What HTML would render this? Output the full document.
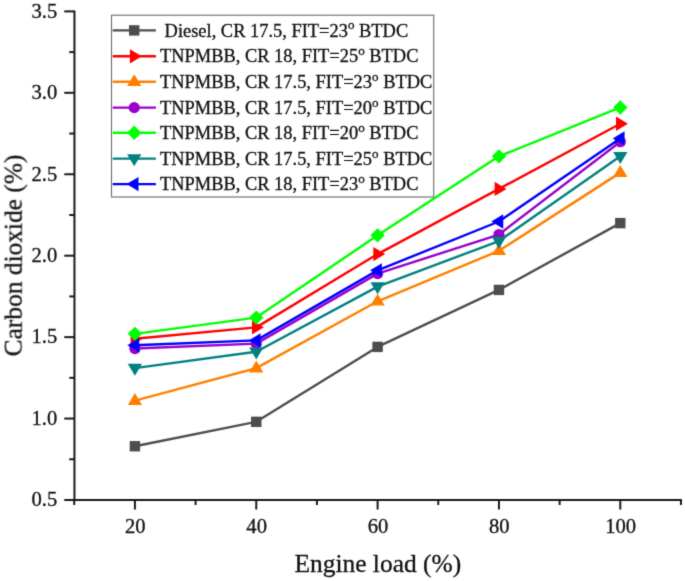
<!DOCTYPE html>
<html><head><meta charset="utf-8"><title>Chart</title>
<style>
html,body{margin:0;padding:0;background:#fff;}
body{width:685px;height:581px;overflow:hidden;}
svg{display:block;font-family:"Liberation Serif",serif;}
text{white-space:pre;fill:#111;stroke:#111;stroke-width:0.3px;}
</style></head><body>
<svg width="685" height="581" viewBox="0 0 685 581">
<defs><filter id="soft" x="0" y="0" width="685" height="581" filterUnits="userSpaceOnUse" color-interpolation-filters="sRGB"><feConvolveMatrix order="3" kernelMatrix="0.01690 0.09620 0.01690 0.09620 0.54760 0.09620 0.01690 0.09620 0.01690" divisor="1" edgeMode="duplicate" preserveAlpha="true"/></filter></defs>
<rect width="685" height="581" fill="#ffffff"/>
<g id="plot" filter="url(#soft)">
<rect width="685" height="581" fill="#ffffff"/>
<g stroke="#1a1a1a" stroke-width="2" fill="none" stroke-linecap="butt">
<line x1="74.45" y1="10.39" x2="74.45" y2="501.0"/>
<line x1="73.25" y1="500.0" x2="681.95" y2="500.0"/>
<line x1="64.25" y1="500.00" x2="74.25" y2="500.00"/>
<line x1="69.25" y1="459.28" x2="74.25" y2="459.28"/>
<line x1="64.25" y1="418.56" x2="74.25" y2="418.56"/>
<line x1="69.25" y1="377.85" x2="74.25" y2="377.85"/>
<line x1="64.25" y1="337.13" x2="74.25" y2="337.13"/>
<line x1="69.25" y1="296.41" x2="74.25" y2="296.41"/>
<line x1="64.25" y1="255.69" x2="74.25" y2="255.69"/>
<line x1="69.25" y1="214.98" x2="74.25" y2="214.98"/>
<line x1="64.25" y1="174.26" x2="74.25" y2="174.26"/>
<line x1="69.25" y1="133.54" x2="74.25" y2="133.54"/>
<line x1="64.25" y1="92.82" x2="74.25" y2="92.82"/>
<line x1="69.25" y1="52.11" x2="74.25" y2="52.11"/>
<line x1="64.25" y1="11.39" x2="74.25" y2="11.39"/>
<line x1="74.25" y1="500.0" x2="74.25" y2="505.0"/>
<line x1="134.92" y1="500.0" x2="134.92" y2="509.5"/>
<line x1="195.59" y1="500.0" x2="195.59" y2="505.0"/>
<line x1="256.26" y1="500.0" x2="256.26" y2="509.5"/>
<line x1="316.93" y1="500.0" x2="316.93" y2="505.0"/>
<line x1="377.60" y1="500.0" x2="377.60" y2="509.5"/>
<line x1="438.27" y1="500.0" x2="438.27" y2="505.0"/>
<line x1="498.94" y1="500.0" x2="498.94" y2="509.5"/>
<line x1="559.61" y1="500.0" x2="559.61" y2="505.0"/>
<line x1="620.28" y1="500.0" x2="620.28" y2="509.5"/>
<line x1="680.95" y1="500.0" x2="680.95" y2="505.0"/>
</g>
<g font-size="20.6px">
<text transform="translate(57.3,506.30)" text-anchor="end">0.5</text>
<text transform="translate(57.3,424.87)" text-anchor="end">1.0</text>
<text transform="translate(57.3,343.43)" text-anchor="end">1.5</text>
<text transform="translate(57.3,262.00)" text-anchor="end">2.0</text>
<text transform="translate(57.3,180.56)" text-anchor="end">2.5</text>
<text transform="translate(57.3,99.12)" text-anchor="end">3.0</text>
<text transform="translate(57.3,17.69)" text-anchor="end">3.5</text>
<text transform="translate(135.32,532.6)" text-anchor="middle">20</text>
<text transform="translate(256.66,532.6)" text-anchor="middle">40</text>
<text transform="translate(378.00,532.6)" text-anchor="middle">60</text>
<text transform="translate(499.34,532.6)" text-anchor="middle">80</text>
<text transform="translate(620.68,532.6)" text-anchor="middle">100</text>
</g>
<text transform="translate(377.8,571.8)" font-size="25.45px" text-anchor="middle">Engine load (%)</text>
<text transform="translate(21.7,255.4) rotate(-90) scale(0.985,1)" font-size="25.8px" text-anchor="middle">Carbon dioxide (%)</text>
<polyline points="134.92,446.25 256.26,421.82 377.60,346.90 498.94,289.90 620.28,223.12" fill="none" stroke="#4d4d4d" stroke-width="2.4" stroke-linejoin="round"/>
<rect x="129.72" y="441.05" width="10.4" height="10.4" fill="#4d4d4d"/>
<rect x="251.06" y="416.62" width="10.4" height="10.4" fill="#4d4d4d"/>
<rect x="372.40" y="341.70" width="10.4" height="10.4" fill="#4d4d4d"/>
<rect x="493.74" y="284.70" width="10.4" height="10.4" fill="#4d4d4d"/>
<rect x="615.08" y="217.92" width="10.4" height="10.4" fill="#4d4d4d"/>
<polyline points="134.92,338.76 256.26,327.36 377.60,254.07 498.94,188.92 620.28,123.77" fill="none" stroke="#ff0000" stroke-width="2.4" stroke-linejoin="round"/>
<polygon points="130.62,331.61 130.62,345.91 142.52,338.76" fill="#ff0000"/>
<polygon points="251.96,320.21 251.96,334.51 263.86,327.36" fill="#ff0000"/>
<polygon points="373.30,246.92 373.30,261.22 385.20,254.07" fill="#ff0000"/>
<polygon points="494.64,181.77 494.64,196.07 506.54,188.92" fill="#ff0000"/>
<polygon points="615.98,116.62 615.98,130.92 627.88,123.77" fill="#ff0000"/>
<polyline points="134.92,400.65 256.26,368.08 377.60,301.30 498.94,250.81 620.28,172.63" fill="none" stroke="#ff8000" stroke-width="2.4" stroke-linejoin="round"/>
<polygon points="127.77,404.95 142.07,404.95 134.92,393.05" fill="#ff8000"/>
<polygon points="249.11,372.38 263.41,372.38 256.26,360.48" fill="#ff8000"/>
<polygon points="370.45,305.60 384.75,305.60 377.60,293.70" fill="#ff8000"/>
<polygon points="491.79,255.11 506.09,255.11 498.94,243.21" fill="#ff8000"/>
<polygon points="613.13,176.93 627.43,176.93 620.28,165.03" fill="#ff8000"/>
<polyline points="134.92,348.53 256.26,343.64 377.60,273.61 498.94,234.52 620.28,141.69" fill="none" stroke="#9900cc" stroke-width="2.4" stroke-linejoin="round"/>
<circle cx="134.92" cy="348.53" r="5.6" fill="#9900cc"/>
<circle cx="256.26" cy="343.64" r="5.6" fill="#9900cc"/>
<circle cx="377.60" cy="273.61" r="5.6" fill="#9900cc"/>
<circle cx="498.94" cy="234.52" r="5.6" fill="#9900cc"/>
<circle cx="620.28" cy="141.69" r="5.6" fill="#9900cc"/>
<polyline points="134.92,333.87 256.26,317.59 377.60,235.34 498.94,156.34 620.28,107.48" fill="none" stroke="#00ff00" stroke-width="2.4" stroke-linejoin="round"/>
<polygon points="127.72,333.87 134.92,326.67 142.12,333.87 134.92,341.07" fill="#00ff00"/>
<polygon points="249.06,317.59 256.26,310.39 263.46,317.59 256.26,324.79" fill="#00ff00"/>
<polygon points="370.40,235.34 377.60,228.14 384.80,235.34 377.60,242.54" fill="#00ff00"/>
<polygon points="491.74,156.34 498.94,149.14 506.14,156.34 498.94,163.54" fill="#00ff00"/>
<polygon points="613.08,107.48 620.28,100.28 627.48,107.48 620.28,114.68" fill="#00ff00"/>
<polyline points="134.92,368.08 256.26,351.79 377.60,286.64 498.94,241.04 620.28,156.34" fill="none" stroke="#008080" stroke-width="2.4" stroke-linejoin="round"/>
<polygon points="127.77,363.78 142.07,363.78 134.92,375.68" fill="#008080"/>
<polygon points="249.11,347.49 263.41,347.49 256.26,359.39" fill="#008080"/>
<polygon points="370.45,282.34 384.75,282.34 377.60,294.24" fill="#008080"/>
<polygon points="491.79,236.74 506.09,236.74 498.94,248.64" fill="#008080"/>
<polygon points="613.13,152.04 627.43,152.04 620.28,163.94" fill="#008080"/>
<polyline points="134.92,345.27 256.26,340.39 377.60,270.35 498.94,221.49 620.28,138.43" fill="none" stroke="#0000ff" stroke-width="2.4" stroke-linejoin="round"/>
<polygon points="139.22,338.12 139.22,352.42 127.32,345.27" fill="#0000ff"/>
<polygon points="260.56,333.24 260.56,347.54 248.66,340.39" fill="#0000ff"/>
<polygon points="381.90,263.20 381.90,277.50 370.00,270.35" fill="#0000ff"/>
<polygon points="503.24,214.34 503.24,228.64 491.34,221.49" fill="#0000ff"/>
<polygon points="624.58,131.28 624.58,145.58 612.68,138.43" fill="#0000ff"/>
<rect x="111.5" y="15.2" width="322.2" height="181.8" fill="#ffffff" stroke="#707070" stroke-width="1.15"/>
<line x1="112.7" y1="30.40" x2="155.9" y2="30.40" stroke="#4d4d4d" stroke-width="2.4"/>
<rect x="129.00" y="25.20" width="10.4" height="10.4" fill="#4d4d4d"/>
<text transform="translate(160.0,36.50) scale(1.024,1)" font-size="18px" xml:space="preserve"> Diesel, CR 17.5, FIT=23<tspan font-size="12.8px" dy="-7.2">o</tspan><tspan dy="7.2"> BTDC</tspan></text>
<line x1="112.7" y1="56.30" x2="155.9" y2="56.30" stroke="#ff0000" stroke-width="2.4"/>
<polygon points="129.90,49.15 129.90,63.45 141.80,56.30" fill="#ff0000"/>
<text transform="translate(160.0,62.40) scale(1.024,1)" font-size="18px" xml:space="preserve">TNPMBB, CR 18, FIT=25<tspan font-size="12.8px" dy="-7.2">o</tspan><tspan dy="7.2"> BTDC</tspan></text>
<line x1="112.7" y1="81.80" x2="155.9" y2="81.80" stroke="#ff8000" stroke-width="2.4"/>
<polygon points="127.05,86.10 141.35,86.10 134.20,74.20" fill="#ff8000"/>
<text transform="translate(160.0,87.90) scale(1.024,1)" font-size="18px" xml:space="preserve">TNPMBB, CR 17.5, FIT=23<tspan font-size="12.8px" dy="-7.2">o</tspan><tspan dy="7.2"> BTDC</tspan></text>
<line x1="112.7" y1="107.60" x2="155.9" y2="107.60" stroke="#9900cc" stroke-width="2.4"/>
<circle cx="134.20" cy="107.60" r="5.6" fill="#9900cc"/>
<text transform="translate(160.0,113.70) scale(1.024,1)" font-size="18px" xml:space="preserve">TNPMBB, CR 17.5, FIT=20<tspan font-size="12.8px" dy="-7.2">o</tspan><tspan dy="7.2"> BTDC</tspan></text>
<line x1="112.7" y1="132.80" x2="155.9" y2="132.80" stroke="#00ff00" stroke-width="2.4"/>
<polygon points="127.00,132.80 134.20,125.60 141.40,132.80 134.20,140.00" fill="#00ff00"/>
<text transform="translate(160.0,138.90) scale(1.024,1)" font-size="18px" xml:space="preserve">TNPMBB, CR 18, FIT=20<tspan font-size="12.8px" dy="-7.2">o</tspan><tspan dy="7.2"> BTDC</tspan></text>
<line x1="112.7" y1="158.60" x2="155.9" y2="158.60" stroke="#008080" stroke-width="2.4"/>
<polygon points="127.05,154.30 141.35,154.30 134.20,166.20" fill="#008080"/>
<text transform="translate(160.0,164.70) scale(1.024,1)" font-size="18px" xml:space="preserve">TNPMBB, CR 17.5, FIT=25<tspan font-size="12.8px" dy="-7.2">o</tspan><tspan dy="7.2"> BTDC</tspan></text>
<line x1="112.7" y1="184.10" x2="155.9" y2="184.10" stroke="#0000ff" stroke-width="2.4"/>
<polygon points="138.50,176.95 138.50,191.25 126.60,184.10" fill="#0000ff"/>
<text transform="translate(160.0,190.20) scale(1.024,1)" font-size="18px" xml:space="preserve">TNPMBB, CR 18, FIT=23<tspan font-size="12.8px" dy="-7.2">o</tspan><tspan dy="7.2"> BTDC</tspan></text>
</g></svg></body></html>
